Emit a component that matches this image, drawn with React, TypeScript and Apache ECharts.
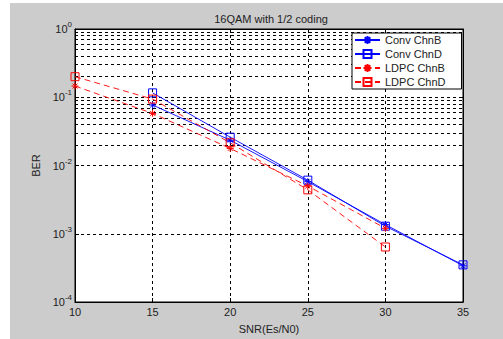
import React, { useEffect, useRef } from "react";
import * as echarts from "echarts";

const snr = [10, 15, 20, 25, 30, 35];
const convChnB = [null, 0.077, 0.0235, 0.0058, 0.00136, 0.00034];
const convChnD = [null, 0.116, 0.026, 0.0061, 0.00129, 0.00035];
const ldpcChnB = [0.146, 0.058, 0.0178, 0.005, 0.0012, null];
const ldpcChnD = [0.2, 0.094, 0.0215, 0.0044, 0.00064, null];
const seriesNames = ["Conv ChnB", "Conv ChnD", "LDPC ChnB", "LDPC ChnD"];

const FONT = "Liberation Sans, Arial, sans-serif";
const STAR = "path://M0,5 L10,5 M5,0 L5,10 M1.5,1.5 L8.5,8.5 M8.5,1.5 L1.5,8.5";

function pairs(vals: (number | null)[]) {
  return snr.map((x, i) => [x, vals[i]]).filter((p) => p[1] !== null);
}

export default function App() {
  const ref = useRef<HTMLDivElement>(null);
  useEffect(() => {
    if (!ref.current) return;
    const chart = echarts.init(ref.current, undefined, { renderer: "svg" });
    const minor: number[] = [];
    for (let e = -4; e < 0; e++) for (let k = 2; k <= 9; k++) minor.push(k * Math.pow(10, e));
    const mk = (name: string, vals: (number | null)[], color: string, sym: string, dashed: boolean) => ({
      name,
      type: "line",
      data: pairs(vals),
      symbol: sym,
      symbolSize: sym === "rect" ? 8 : 7,
      showSymbol: true,
      lineStyle: { color, width: 0.9, type: dashed ? [6, 4] : "solid" },
      itemStyle: { color: "rgba(0,0,0,0)", borderColor: color, borderWidth: 1 },
      z: 3,
    });
    chart.setOption({
      animation: false,
      textStyle: { fontFamily: FONT },
      title: {
        text: "16QAM with 1/2 coding",
        left: 266,
        textAlign: "center",
        top: 8,
        textStyle: { fontSize: 11, fontWeight: "normal", color: "#222", fontFamily: FONT },
      },
      legend: {
        data: seriesNames,
        orient: "vertical",
        left: 352,
        top: 33,
        padding: [0, 16, 0, 2],
        itemGap: 0,
        itemWidth: 25,
        itemHeight: 10,
        backgroundColor: "#fff",
        borderColor: "#000",
        borderWidth: 1,
        textStyle: { fontSize: 11, color: "#222", lineHeight: 14, fontFamily: FONT },
        z: 20,
      },
      grid: {
        left: 75,
        right: 40,
        top: 29,
        bottom: 34,
        show: true,
        backgroundColor: "#fff",
        borderColor: "#000",
        borderWidth: 1,
      },
      xAxis: [
        {
          type: "value",
          min: 10,
          max: 35,
          interval: 5,
          name: "SNR(Es/N0)",
          nameLocation: "middle",
          nameGap: 21,
          nameTextStyle: { fontSize: 11, color: "#222", fontFamily: FONT },
          axisLine: { lineStyle: { color: "#000" } },
          axisTick: { inside: true, length: 4, lineStyle: { color: "#000" } },
          axisLabel: { fontSize: 11, color: "#222", margin: 4, fontFamily: FONT },
          splitLine: { show: true, lineStyle: { color: "#000", type: [3, 3], width: 1 } },
        },
        {
          type: "value",
          min: 10,
          max: 35,
          interval: 5,
          position: "top",
          axisLine: { lineStyle: { color: "#000" } },
          axisTick: { inside: true, length: 4, lineStyle: { color: "#000" } },
          axisLabel: { show: false },
          splitLine: { show: false },
        },
      ],
      yAxis: [
        {
          type: "log",
          logBase: 10,
          min: 1e-4,
          max: 1,
          name: "BER",
          nameLocation: "middle",
          nameGap: 30,
          nameTextStyle: { fontSize: 11, color: "#222", fontFamily: FONT },
          axisLine: { lineStyle: { color: "#000" } },
          axisTick: { inside: true, length: 4, lineStyle: { color: "#000" } },
          axisLabel: {
            margin: 3,
            formatter: (v: number) => `{b|10}{s|${Math.round(Math.log10(v))}}`,
            rich: {
              b: { fontSize: 11, color: "#222", fontFamily: FONT },
              s: { fontSize: 8, color: "#222", fontFamily: FONT, padding: [0, 0, 9, 0] },
            },
          },
          splitLine: { show: true, lineStyle: { color: "#000", type: [3, 3], width: 1 } },
        },
        {
          type: "log",
          logBase: 10,
          min: 1e-4,
          max: 1,
          position: "right",
          axisLine: { lineStyle: { color: "#000" } },
          axisTick: { inside: true, length: 4, lineStyle: { color: "#000" } },
          axisLabel: { show: false },
          splitLine: { show: false },
        },
      ],
      series: [
        {
          name: "_grid",
          type: "line",
          data: [],
          z: 1,
          silent: true,
          markLine: {
            silent: true,
            z: 1,
            symbol: ["none", "none"],
            label: { show: false },
            lineStyle: { color: "#000", type: [3, 3], width: 1 },
            data: minor.map((v) => ({ yAxis: v })),
          },
        },
        mk(seriesNames[0], convChnB, "#0000ff", STAR, false),
        mk(seriesNames[1], convChnD, "#0000ff", "rect", false),
        mk(seriesNames[2], ldpcChnB, "#ff0000", STAR, true),
        mk(seriesNames[3], ldpcChnD, "#ff0000", "rect", true),
      ],
    });
    return () => chart.dispose();
  }, []);
  return (
    <div style={{ position: "fixed", left: 0, top: 0, width: 503, height: 339, background: "#fff" }}>
      <div style={{ position: "absolute", left: 10, top: 3, right: 0, bottom: 0, background: "#cccccc" }} />
      <div ref={ref} style={{ position: "absolute", left: 0, top: 0, width: 503, height: 339 }} />
    </div>
  );
}
